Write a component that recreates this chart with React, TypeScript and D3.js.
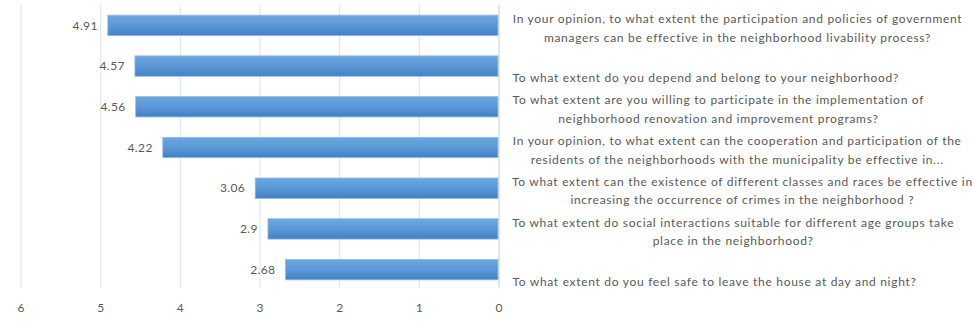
import React from "react";
import * as d3 from "d3";

const categories: string[][] = [
  ["In your opinion, to what extent the participation and policies of government", "managers can be effective in the neighborhood livability process?"],
  ["To what extent do you depend and belong to your neighborhood?"],
  ["To what extent are you willing to participate in the implementation of", "neighborhood renovation and improvement programs?"],
  ["In your opinion, to what extent can the cooperation and participation of the", "residents of the neighborhoods with the municipality be effective in..."],
  ["To what extent can the existence of different classes and races be effective in", "increasing the occurrence of crimes in the neighborhood ?"],
  ["To what extent do social interactions suitable for different age groups take", "place in the neighborhood?"],
  ["To what extent do you feel safe to leave the house at day and night?"],
];
const values: number[] = [4.91, 4.57, 4.56, 4.22, 3.06, 2.9, 2.68];
const valueLabels: string[] = ["4.91", "4.57", "4.56", "4.22", "3.06", "2.9", "2.68"];
const xTicks: number[] = [6, 5, 4, 3, 2, 1, 0];

const W = 974;
const H = 325;
const FONT = "Lato, 'Open Sans', sans-serif";
const GRAY = "#595959";
const LABEL_SIZE = 12;
const LABEL_SPACING = 0.7;

let ctx: CanvasRenderingContext2D | null = null;
function measure(s: string): number {
  if (!ctx) ctx = document.createElement("canvas").getContext("2d");
  if (!ctx) return s.length * 5.8;
  ctx.font = `${LABEL_SIZE}px Lato, 'Open Sans', sans-serif`;
  return ctx.measureText(s).width + s.length * LABEL_SPACING;
}

export default function App() {
  const x = d3.scaleLinear().domain([6, 0]).range([21, 499]);
  const y = d3
    .scaleBand<number>()
    .domain(d3.range(values.length))
    .range([5, 290])
    .paddingInner(0.5)
    .paddingOuter(0.25);
  const labelLeft = 512;

  return (
    <div style={{ position: "absolute", left: 0, top: 0 }}>
      <svg width={W} height={H} style={{ display: "block", background: "#fff" }}>
        <defs>
          <linearGradient id="barGrad" x1="0" y1="0" x2="0" y2="1">
            <stop offset="0%" stopColor="#6ea7de" />
            <stop offset="55%" stopColor="#5896d6" />
            <stop offset="100%" stopColor="#4280c5" />
          </linearGradient>
        </defs>
        {xTicks.map((t) => (
          <line
            key={"g" + t}
            x1={x(t)}
            x2={x(t)}
            y1={5}
            y2={288}
            stroke={t === 0 ? "#c8ccd2" : "#dde2ea"}
            strokeWidth={1}
          />
        ))}
        {values.map((v, i) => {
          const by = y(i)!;
          const bh = y.bandwidth();
          return (
            <g key={"b" + i}>
              <rect
                x={x(v)}
                y={by}
                width={x(0) - x(v) - 1}
                height={bh}
                fill="url(#barGrad)"
                stroke="#8fbbe6"
                strokeWidth={0.8}
              />
              <text
                x={x(v) - 10}
                y={by + bh / 2}
                dy="0.35em"
                textAnchor="end"
                fontFamily={FONT}
                fontSize={12}
                letterSpacing={0.4}
                fill={GRAY}
              >
                {valueLabels[i]}
              </text>
            </g>
          );
        })}
        {categories.map((lines, i) => {
          const c = y(i)! + y.bandwidth() / 2;
          const n = lines.length;
          const maxW = d3.max(lines, measure) || 0;
          const cx = labelLeft + maxW / 2;
          return (
            <text
              key={"c" + i}
              textAnchor="middle"
              fontFamily={FONT}
              fontSize={LABEL_SIZE}
              letterSpacing={LABEL_SPACING}
              fill={GRAY}
            >
              {lines.map((ln, j) => (
                <tspan key={j} x={cx} y={c + 12 - (n - 1 - j) * 18.5} dy="0.35em">
                  {ln}
                </tspan>
              ))}
            </text>
          );
        })}
        {xTicks.map((t) => (
          <text
            key={"t" + t}
            x={x(t)}
            y={308}
            dy="0.35em"
            textAnchor="middle"
            fontFamily={FONT}
            fontSize={12}
            fill={GRAY}
          >
            {t}
          </text>
        ))}
      </svg>
    </div>
  );
}
